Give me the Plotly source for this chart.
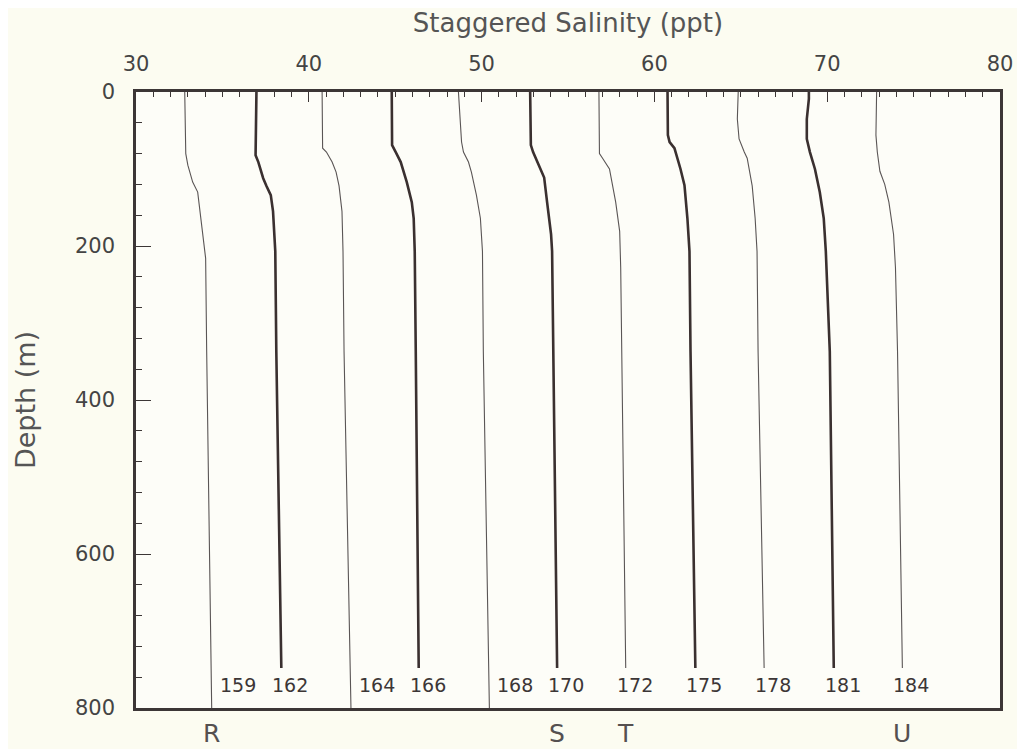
import plotly.graph_objects as go

# station order, left to right (each profile is offset along the salinity axis)
stations = ["159", "162", "164", "166", "168", "170", "172", "175", "178", "181", "184"]
heavy = ["162", "166", "170", "175", "181"]

depth_159 = [0, 80, 95, 117, 130, 150, 185, 216, 337, 800]
sal_159 = [32.82, 32.88, 33.0, 33.28, 33.57, 33.68, 33.86, 34.03, 34.09, 34.38]

depth_162 = [0, 70, 82, 91, 112, 122, 134, 155, 207, 337, 748]
sal_162 = [36.97, 36.95, 36.92, 37.08, 37.36, 37.55, 37.8, 37.93, 38.06, 38.12, 38.41]

depth_164 = [0, 73, 78, 91, 104, 122, 155, 207, 337, 800]
sal_164 = [40.77, 40.8, 41.02, 41.35, 41.58, 41.75, 41.92, 41.98, 42.04, 42.44]

depth_166 = [0, 69, 78, 91, 117, 143, 164, 207, 337, 748]
sal_166 = [44.80, 44.82, 45.03, 45.32, 45.67, 45.96, 46.07, 46.13, 46.19, 46.36]

depth_168 = [0, 35, 65, 78, 91, 104, 134, 164, 207, 337, 800]
sal_168 = [48.66, 48.78, 48.84, 48.95, 49.24, 49.41, 49.70, 49.93, 50.05, 50.10, 50.45]

depth_170 = [0, 69, 78, 100, 111, 143, 185, 207, 337, 748]
sal_170 = [52.81, 52.85, 52.98, 53.39, 53.62, 53.79, 54.02, 54.08, 54.14, 54.37]

depth_172 = [0, 80, 86, 100, 143, 181, 228, 337, 748]
sal_172 = [56.79, 56.82, 57.0, 57.4, 57.76, 57.99, 58.05, 58.11, 58.34]

depth_175 = [0, 56, 65, 73, 100, 121, 164, 207, 337, 748]
sal_175 = [60.76, 60.78, 60.88, 61.16, 61.51, 61.74, 61.91, 62.03, 62.09, 62.37]

depth_178 = [0, 35, 61, 73, 78, 86, 122, 164, 207, 337, 748]
sal_178 = [64.85, 64.80, 64.90, 65.08, 65.20, 65.37, 65.66, 65.83, 65.94, 66.00, 66.35]

depth_181 = [0, 9, 35, 61, 78, 100, 130, 164, 207, 337, 748]
sal_181 = [68.94, 68.94, 68.82, 68.82, 69.0, 69.29, 69.57, 69.80, 69.92, 70.15, 70.38]

depth_184 = [0, 56, 78, 103, 120, 143, 185, 228, 337, 748]
sal_184 = [72.86, 72.82, 72.90, 73.05, 73.33, 73.57, 73.84, 73.95, 74.07, 74.35]

profiles = {
    "159": (depth_159, sal_159), "162": (depth_162, sal_162),
    "164": (depth_164, sal_164), "166": (depth_166, sal_166),
    "168": (depth_168, sal_168), "170": (depth_170, sal_170),
    "172": (depth_172, sal_172), "175": (depth_175, sal_175),
    "178": (depth_178, sal_178), "181": (depth_181, sal_181),
    "184": (depth_184, sal_184),
}

# section letters written under the bottom axis, below a given station
groups = ["R", "S", "T", "U"]
group_station = ["159", "170", "172", "184"]

label_depth = 770
ink = "#3c3636"
font = "DejaVu Sans"

fig = go.Figure()

for st in stations:
    d, s = profiles[st]
    thick = st in heavy
    fig.add_trace(go.Scatter(
        x=s, y=d, mode="lines", name=st,
        line=dict(color="#3a3030" if thick else "#5a5555", width=2.6 if thick else 1.1),
        showlegend=False,
    ))

annotations = []
for st in stations:
    d, s = profiles[st]
    full = d[-1] >= 800
    annotations.append(dict(
        x=s[-1], y=label_depth, xref="x", yref="y", text=st, showarrow=False,
        xanchor="left" if full else "center", xshift=6 if full else 9,
        font=dict(family=font, size=19, color=ink),
    ))

for g, st in zip(groups, group_station):
    annotations.append(dict(
        x=profiles[st][1][-1], y=0, xref="x", yref="paper", text=g, showarrow=False,
        yanchor="middle", yshift=-25,
        font=dict(family=font, size=25, color="#555050"),
    ))

# the page adds an 8px body margin, so the figure is a little smaller than the window
fig.update_layout(
    width=1017, height=741,
    margin=dict(l=128, r=21, t=82, b=41),
    paper_bgcolor="#fcfcf1",
    plot_bgcolor="#fdfdf8",
    font=dict(family=font, size=21, color=ink),
    annotations=annotations,
    xaxis=dict(
        side="top", range=[30, 80], tickvals=[30, 40, 50, 60, 70, 80],
        ticks="inside", ticklen=10, tickwidth=1.2, tickcolor=ink,
        minor=dict(dtick=1, ticks="inside", ticklen=5, tickcolor=ink, showgrid=False),
        showgrid=False, zeroline=False,
        showline=True, linecolor=ink, linewidth=2.5, mirror=True,
        title=dict(text="Staggered Salinity (ppt)", font=dict(size=26, color="#555"), standoff=14),
        tickfont=dict(size=21, color="#444"),
        ticklabelstandoff=10,
    ),
    yaxis=dict(
        range=[800, 0], tickvals=[0, 200, 400, 600, 800],
        ticks="inside", ticklen=15, tickwidth=1.2, tickcolor=ink,
        minor=dict(dtick=40, ticks="inside", ticklen=6, tickcolor=ink, showgrid=False),
        showgrid=False, zeroline=False,
        showline=True, linecolor=ink, linewidth=2.5, mirror=True,
        title=dict(text="Depth (m)", font=dict(size=27, color="#555"), standoff=32),
        tickfont=dict(size=21, color="#444"),
        ticklabelstandoff=14,
    ),
)

fig.write_html("out.html")
